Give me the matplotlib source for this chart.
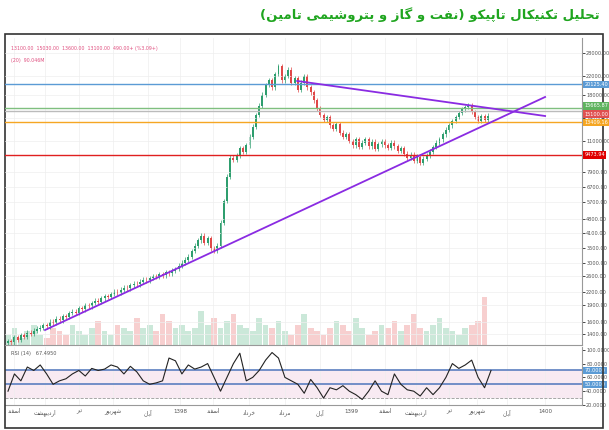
import numpy as np
import matplotlib
matplotlib.use("Agg")
import matplotlib.pyplot as plt
import matplotlib.transforms as mtransforms
from matplotlib.patches import Rectangle

# ---------- data ----------
closes = [1300,1280,1350,1320,1380,1360,1420,1400,1450,1480,
          1500,1540,1520,1600,1580,1650,1620,1700,1680,1750,
          1780,1760,1850,1820,1900,1880,1950,2000,1980,2050,
          2100,2080,2150,2200,2180,2250,2300,2280,2350,2400,
          2380,2450,2500,2480,2550,2600,2580,2650,2620,2700,
          2680,2750,2800,2900,3000,3100,3200,3400,3600,3800,
          4000,3700,3900,3500,3400,3600,
          4600,5800,7500,9200,
          9000,9400,10200,9800,10500,11500,12800,14500,16000,18000,
          20000,21000,19500,22500,24500,21000,22000,23500,20500,21500,19000,20500,22000,19500,18500,
          17000,15500,14500,13800,14200,13000,12500,13200,12000,11500,11800,11000,10500,11200,10300,
          10800,11200,10400,10900,10100,10600,11000,10500,10200,10800,10400,9900,10200,9600,9200,9500,8900,9300,8700,9100,
          9400,9800,10300,10800,11200,11800,12400,13000,13600,14200,14800,15400,15800,16000,15000,14200,13600,14300,13800,14400]
volumes = [3,5,2,4,6,3,2,5,4,3,6,4,3,5,7,4,3,6,5,4,8,5,6,4,9,7,5,6,4,5,
           10,6,8,5,7,9,6,5,4,8,6,5,7,4,3,6,9,5,4,3,5,7,6,4,8,5,3,4,6,5,
           7,4,6,9,5,4,6,8,5,4,3,5,6,7,14]
rsi = [40,65,55,75,70,78,65,50,55,58,65,70,62,73,70,72,78,75,65,76,68,55,50,52,55,
       88,84,65,78,72,75,80,60,40,60,80,95,55,60,70,85,96,88,60,55,50,37,57,45,30,
       45,42,48,40,35,28,40,55,40,35,65,50,42,40,33,45,35,45,60,80,73,78,85,60,45,70]
levels = [20125.40, 15665.87, 15100.00, 13409.16, 9473.94]
level_colors = ["#5b9bd5", "#7fbf7f", "#bbbbbb", "#f5a623", "#e02020"]
label_colors = ["#5b9bd5", "#5fb35f", "#e05050", "#f5a623", "#e00000"]
label_shift_px = [0, 2, -3, 0, 0]
support = ([11.5, 166.8], [1461, 17580])
resistance = ([89.8, 166.8], [20860, 14350])
price_ticks = [28000,22000,18000,14000,11000,7900,6700,5700,4800,4100,3500,3000,2600,2200,1900,1600,1400]
rsi_ticks = [100,80,60,40,20]
month_pos_px = [14,45,79,113,148,180,213,249,285,320,351,385,416,449,477,507,545]
month_names = ["اسفند","اردیبهشت","تیر","شهریور","آبان","1398","اسفند","خرداد","مرداد","آبان",
               "1399","اسفند","اردیبهشت","تیر","شهریور","آبان","1400"]
title = "تحلیل تکنیکال تاپیکو (نفت و گاز و پتروشیمی تامین)"

# ---------- simple Persian shaping ----------
F = {'ت':(0xFE95,0xFE96,0xFE97,0xFE98),'ح':(0xFEA1,0xFEA2,0xFEA3,0xFEA4),'ل':(0xFEDD,0xFEDE,0xFEDF,0xFEE0),
     'ی':(0xFBFC,0xFBFD,0xFBFE,0xFBFF),'ک':(0xFB8E,0xFB8F,0xFB90,0xFB91),'ن':(0xFEE5,0xFEE6,0xFEE7,0xFEE8),
     'ا':(0xFE8D,0xFE8E),'پ':(0xFB56,0xFB57,0xFB58,0xFB59),'و':(0xFEED,0xFEEE),'ف':(0xFED1,0xFED2,0xFED3,0xFED4),
     'گ':(0xFB92,0xFB93,0xFB94,0xFB95),'ز':(0xFEAF,0xFEB0),'ش':(0xFEB5,0xFEB6,0xFEB7,0xFEB8),'م':(0xFEE1,0xFEE2,0xFEE3,0xFEE4),
     'ر':(0xFEAD,0xFEAE),'س':(0xFEB1,0xFEB2,0xFEB3,0xFEB4),'د':(0xFEA9,0xFEAA),'ب':(0xFE8F,0xFE90,0xFE91,0xFE92),
     'ه':(0xFEE9,0xFEEA,0xFEEB,0xFEEC),'آ':(0xFE81,0xFE82),'خ':(0xFEA5,0xFEA6,0xFEA7,0xFEA8)}
def shape(s):
    out = []
    for i, c in enumerate(s):
        if c not in F:
            out.append(c); continue
        prev = s[i-1] if i > 0 else ''
        nxt = s[i+1] if i+1 < len(s) else ''
        jp = prev in F and len(F[prev]) == 4
        jn = len(F[c]) == 4 and nxt in F
        f = F[c]
        if jp and jn: g = f[3]
        elif jp: g = f[1]
        elif jn: g = f[2]
        else: g = f[0]
        out.append(chr(g))
    r = ''.join(out)[::-1]
    return r.translate(str.maketrans('()', ')('))
def fa(s):
    return s if s.isdigit() else shape(s)

# ---------- figure ----------
W, H = 609, 430
fig = plt.figure(figsize=(W/100, H/100), dpi=100)
fig.patch.set_facecolor("white")
def px_axes(x0, y0, x1, y1):
    return fig.add_axes([x0/W, 1-y1/H, (x1-x0)/W, (y1-y0)/H])

fig.text(0.985, 1-15/H, shape(title), ha="right", va="center", color="#1fa51f",
         fontsize=9.5, fontweight="bold", family="DejaVu Sans")
fig.add_artist(Rectangle((5/W, 1-428/H), 598/W, 394/H, transform=fig.transFigure,
                         fill=False, lw=1.2, ec="#333333"))

def ix(px):
    return (px-8)/3.22
xlim = (ix(5), ix(582))

ax = px_axes(5, 38, 582, 345)
n = len(closes)
x = np.arange(n)
opens = [closes[0]*0.98] + closes[:-1]
up = [c >= o for c, o in zip(closes, opens)]

axv = ax.twinx()
vx = np.arange(len(volumes))*2
vcol = ["#bfe3d0" if up[min(int(v), n-1)] else "#f6c4c4" for v in vx]
axv.bar(vx, volumes, width=1.8, color=vcol, alpha=0.8, lw=0)
axv.set_ylim(0, 90)
axv.set_xlim(*xlim)
axv.axis("off")
axv.set_zorder(0)
ax.set_zorder(1)
ax.patch.set_visible(False)

gc, rc = "#2e9e6e", "#e04848"
for i in range(n):
    o, c = opens[i], closes[i]
    col = gc if up[i] else rc
    hi = max(o, c)*1.025; lo = min(o, c)*0.975
    ax.vlines(x[i], lo, hi, color=col, lw=0.5)
    ax.bar(x[i], abs(c-o) if abs(c-o) > 0 else c*0.003, bottom=min(o, c), width=0.6, color=col, lw=0)
ax.set_yscale("log")
ax.set_ylim(1245, 33000)
ax.set_xlim(*xlim)
for lv, lc, bc, sh in zip(levels, level_colors, label_colors, label_shift_px):
    ax.axhline(lv, color=lc, lw=1.0)
    tr = ax.get_yaxis_transform() + mtransforms.ScaledTranslation(0, sh/100, fig.dpi_scale_trans)
    ax.text(1.004, lv, f"{lv:.2f}", transform=tr, fontsize=3.6, color="white",
            va="center", ha="left", bbox=dict(boxstyle="square,pad=0.25", fc=bc, ec="none"), zorder=5)
ax.plot(*support, color="#8a2be2", lw=1.3)
ax.plot(*resistance, color="#8a2be2", lw=1.3)
ax.yaxis.tick_right()
ax.set_yticks(price_ticks)
ax.set_yticklabels([f"{t:.2f}" for t in price_ticks], fontsize=3.6, color="#555555")
ax.yaxis.set_minor_locator(matplotlib.ticker.NullLocator())
ax.tick_params(axis="y", length=2, width=0.5, pad=1)
month_idx = [ix(p) for p in month_pos_px]
ax.set_xticks(month_idx)
ax.tick_params(axis="x", length=0, labelbottom=False)
ax.grid(True, color="#eeeeee", lw=0.5)
for s in ["top", "left"]:
    ax.spines[s].set_visible(False)
ax.spines["right"].set_color("#999999")
ax.spines["bottom"].set_color("#999999")
ax.text(0.01, 0.975, "13100.00  15030.00  13600.00  13100.00  490.00+ (%3.09+)", transform=ax.transAxes,
        fontsize=3.4, color="#e05080", va="top")
ax.text(0.01, 0.935, "(20)  90.046M", transform=ax.transAxes, fontsize=3.4, color="#e05080", va="top")

ar = px_axes(5, 347, 582, 405)
ar.set_xlim(*xlim)
ar.set_ylim(24, 104)
ar.axhspan(30, 70, color="#f4dcea", alpha=0.6, lw=0)
ar.axhline(70, color="#5b7fc0", lw=1.2)
ar.axhline(50, color="#5b7fc0", lw=1.2)
ar.axhline(30, color="#999999", lw=0.6, ls="--")
ar.plot(np.arange(len(rsi))*2, rsi, color="#222222", lw=0.8)
ar.yaxis.tick_right()
ar.set_yticks(rsi_ticks)
ar.set_yticklabels([f"{t:.4f}" for t in rsi_ticks], fontsize=3.6, color="#555555")
ar.tick_params(axis="y", length=2, width=0.5, pad=1)
for lv in (70, 50):
    ar.text(1.004, lv, f"{lv:.4f}", transform=ar.get_yaxis_transform(), fontsize=3.6, color="white",
            va="center", ha="left", bbox=dict(boxstyle="square,pad=0.25", fc="#5b9bd5", ec="none"))
ar.set_xticks(month_idx)
ar.set_xticklabels([fa(m) for m in month_names], fontsize=4, color="#555555", family="DejaVu Sans")
ar.tick_params(axis="x", length=0, pad=3)
ar.grid(True, axis="x", color="#eeeeee", lw=0.5)
for s in ["top", "left"]:
    ar.spines[s].set_visible(False)
ar.spines["right"].set_color("#999999")
ar.spines["bottom"].set_color("#999999")
ar.text(0.01, 0.93, "RSI (14)   67.4950", transform=ar.transAxes, fontsize=3.6, color="#555555", va="top")

fig.savefig("out.png", dpi=100)
